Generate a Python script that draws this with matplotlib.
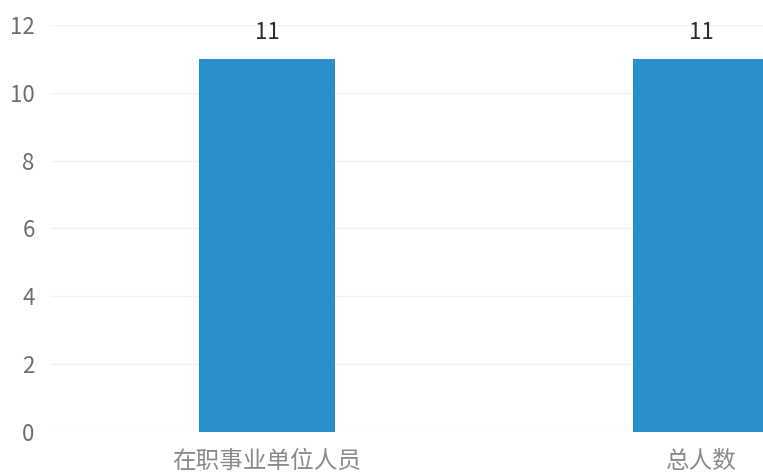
import matplotlib.pyplot as plt
import matplotlib

matplotlib.rcParams['font.family'] = ['Noto Sans CJK SC', 'DejaVu Sans']
matplotlib.rcParams['axes.unicode_minus'] = False

# 数据
categories = ['在职事业单位人员', '总人数']
counts = [11, 11]
y_ticks = [0, 2, 4, 6, 8, 10, 12]

fig = plt.figure(figsize=(7.63, 4.75), dpi=100)
# 右侧的柱子被原图裁掉了一半，所以坐标区延伸到画布外
ax = fig.add_axes([0.0655, 0.0905, 1.138, 0.857])

x = range(len(categories))
bars = ax.bar(x, counts, width=0.313, color='#2a90cc', zorder=2)

for bar in bars:
    h = bar.get_height()
    ax.text(bar.get_x() + bar.get_width() / 2, h + 0.45, f'{int(h)}',
            ha='center', va='bottom', fontsize=16, color='#2b2b2b')

ax.set_xlim(-0.5, 1.5)
ax.set_ylim(0, 12)
ax.set_yticks(y_ticks)
ax.set_yticklabels([str(t) for t in y_ticks], fontsize=16, color='#6e6e6e')
ax.set_xticks(list(x))
ax.set_xticklabels(categories, fontsize=17, color='#8a8a8a')

ax.grid(axis='y', color='#f3f3f3', linewidth=1, zorder=0)
ax.tick_params(axis='x', length=0, pad=13)
ax.tick_params(axis='y', length=0, pad=11)
for s in ax.spines.values():
    s.set_visible(False)

fig.savefig('out.png', dpi=100)
